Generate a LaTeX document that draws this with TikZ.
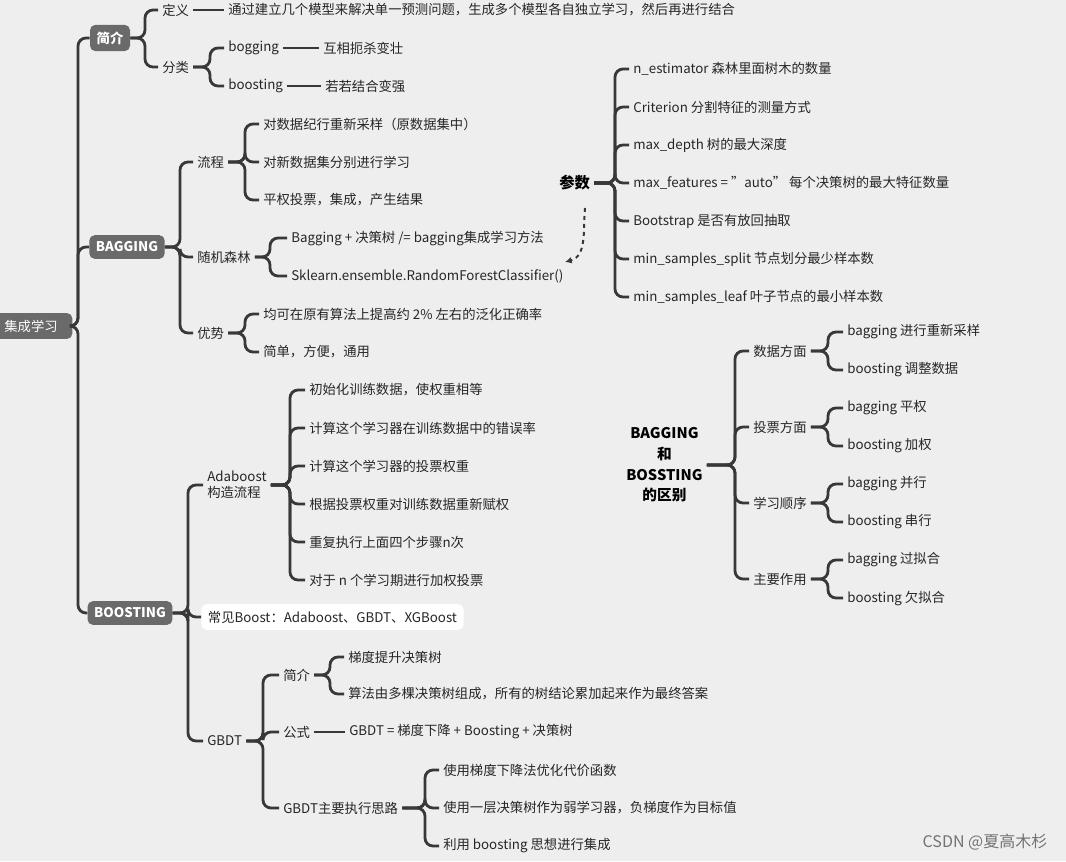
\documentclass[tikz,border=0pt]{standalone}
\usepackage{fontspec}
\setmainfont{Noto Sans CJK SC}
\usetikzlibrary{arrows.meta,positioning}
\definecolor{bgray}{HTML}{EEEEEE}
\definecolor{lnk}{HTML}{383838}
\definecolor{boxc}{HTML}{6A6A6A}
\tikzset{>={Latex[width=5pt,length=5pt]}}

\begin{document}
\begin{tikzpicture}[x=0.75pt,y=-0.75pt,
    txt/.style={anchor=west,inner sep=3pt,text=black!85,font=\fontsize{10}{12}\selectfont},
    hub/.style={fill=boxc,text=white,rounded corners=4pt,inner sep=5pt,font=\fontsize{10}{12}\selectfont\bfseries},
    br/.style={draw=lnk,line width=2.1pt,rounded corners=6pt}]

  \fill[bgray] (0,0) rectangle (1066,861);
  \useasboundingbox (0,0) rectangle (1066,861);

  \newcommand\twig[3]{\draw[br] (#1.east) -- (#1.east -| #2) |- (#3.west);}

  % trunks
  \foreach \n/\x in {ta/78,tb/145,tc/210,td/180,te/245,tf/270,tg/615,th/188,ti/290,tj/263,tk/330,tl/425,tm/735,tn/828}
    {\coordinate (\n) at (\x,0);}

  % root and first level
  \node[hub,font=\fontsize{10}{12}\selectfont,minimum width=62] (root) at (31,326) {集成学习};
  \node[hub] (intro) at (110,38) {简介};
  \node[hub] (bag) at (127,247) {BAGGING};
  \node[hub] (boost) at (130,613) {BOOSTING};
  \foreach \c in {intro,bag,boost} {\twig{root}{ta}{\c}}

  % intro
  \node[txt] (def) at (158,10) {定义};
  \node[txt] (defx) at (224,10) {通过建立几个模型来解决单一预测问题，生成多个模型各自独立学习，然后再进行结合};
  \node[txt] (cls) at (158,67) {分类};
  \node[txt] (bgg) at (224,48) {bogging};
  \node[txt] (bgt) at (224,86) {boosting};
  \node[txt] (bggx) at (319,48) {互相扼杀变壮};
  \node[txt] (bgtx) at (321,86) {若若结合变强};
  \foreach \c in {def,cls} {\twig{intro}{tb}{\c}}
  \foreach \c in {bgg,bgt} {\twig{cls}{tc}{\c}}
  \draw[br] (def) -- (defx);
  \draw[br] (bgg) -- (bggx);
  \draw[br] (bgt) -- (bgtx);

  % bagging
  \node[txt] (flow) at (193,162) {流程};
  \node[txt] (rf) at (193,257) {随机森林};
  \node[txt] (adv) at (193,333) {优势};
  \foreach \c in {flow,rf,adv} {\twig{bag}{td}{\c}}
  \node[txt] (f1) at (259,124) {对数据纪行重新采样（原数据集中）};
  \node[txt] (f2) at (259,162) {对新数据集分别进行学习};
  \node[txt] (f3) at (259,200) {平权投票，集成，产生结果};
  \foreach \c in {f1,f2,f3} {\twig{flow}{te}{\c}}
  \node[txt] (rf1) at (287,238) {Bagging + 决策树 /= bagging集成学习方法};
  \node[txt] (rf2) at (287,276) {Sklearn.ensemble.RandomForestClassifier()};
  \foreach \c in {rf1,rf2} {\twig{rf}{tf}{\c}}
  \node[txt] (a1) at (259,314) {均可在原有算法上提高约 2\% 左右的泛化正确率};
  \node[txt] (a2) at (259,352) {简单，方便，通用};
  \foreach \c in {a1,a2} {\twig{adv}{te}{\c}}

  % parameters
  \node[txt,text=black,font=\fontsize{11.5}{13}\selectfont\bfseries] (par) at (555,183) {参数};
  \node[txt] (p1) at (629,69) {n\_estimator 森林里面树木的数量};
  \node[txt] (p2) at (629,107) {Criterion 分割特征的测量方式};
  \node[txt] (p3) at (629,145) {max\_depth 树的最大深度};
  \node[txt] (p4) at (629,183) {max\_features = \symbol{34}auto\symbol{34} 每个决策树的最大特征数量};
  \node[txt] (p5) at (629,221) {Bootstrap 是否有放回抽取};
  \node[txt] (p6) at (629,259) {min\_samples\_split 节点划分最少样本数};
  \node[txt] (p7) at (629,297) {min\_samples\_leaf 叶子节点的最小样本数};
  \foreach \c in {p1,p2,p3,p4,p5,p6,p7} {\twig{par}{tg}{\c}}
  \draw[->,lnk,line width=1.5pt,dashed] (585,208) to[out=-95,in=15] (565,262);

  % boosting
  \node[txt,align=left] (ada) at (203,485) {Adaboost\\构造流程};
  \node[txt,fill=white,rounded corners=4pt,inner sep=5pt] (com) at (201,617) {常见Boost：Adaboost、GBDT、XGBoost};
  \node[txt] (gbdt) at (203,741) {GBDT};
  \foreach \c in {ada,com,gbdt} {\twig{boost}{th}{\c}}
  \node[txt] (d1) at (305,390) {初始化训练数据，使权重相等};
  \node[txt] (d2) at (305,428) {计算这个学习器在训练数据中的错误率};
  \node[txt] (d3) at (305,466) {计算这个学习器的投票权重};
  \node[txt] (d4) at (305,504) {根据投票权重对训练数据重新赋权};
  \node[txt] (d5) at (305,542) {重复执行上面四个步骤n次};
  \node[txt] (d6) at (305,580) {对于 n 个学习期进行加权投票};
  \foreach \c in {d1,d2,d3,d4,d5,d6} {\twig{ada}{ti}{\c}}
  \node[txt] (g1) at (279,675) {简介};
  \node[txt] (g2) at (279,732) {公式};
  \node[txt] (g3) at (279,808) {GBDT主要执行思路};
  \foreach \c in {g1,g2,g3} {\twig{gbdt}{tj}{\c}}
  \node[txt] (g11) at (344,657) {梯度提升决策树};
  \node[txt] (g12) at (344,694) {算法由多棵决策树组成，所有的树结论累加起来作为最终答案};
  \foreach \c in {g11,g12} {\twig{g1}{tk}{\c}}
  \node[txt] (g21) at (345,732) {GBDT = 梯度下降 + Boosting + 决策树};
  \draw[br] (g2) -- (g21);
  \node[txt] (g31) at (439,770) {使用梯度下降法优化代价函数};
  \node[txt] (g32) at (439,808) {使用一层决策树作为弱学习器，负梯度作为目标值};
  \node[txt] (g33) at (439,846) {利用 boosting 思想进行集成};
  \foreach \c in {g31,g32,g33} {\twig{g3}{tl}{\c}}

  % difference
  \node[txt,text=black,align=center,font=\fontsize{11}{15.5}\selectfont\bfseries] (diff) at (622,465) {BAGGING\\和\\BOSSTING\\的区别};
  \node[txt] (v1) at (749,351) {数据方面};
  \node[txt] (v2) at (749,427) {投票方面};
  \node[txt] (v3) at (749,503) {学习顺序};
  \node[txt] (v4) at (749,579) {主要作用};
  \foreach \c in {v1,v2,v3,v4} {\twig{diff}{tm}{\c}}
  \foreach \p/\a/\b/\ya in {v1/bagging 进行重新采样/boosting 调整数据/332,
                            v2/bagging 平权/boosting 加权/408,
                            v3/bagging 并行/boosting 串行/484,
                            v4/bagging 过拟合/boosting 欠拟合/560}{
    \node[txt] (\p a) at (843,\ya) {\a};
    \node[txt] (\p b) at (843,\ya+38) {\b};
    \twig{\p}{tn}{\p a}
    \twig{\p}{tn}{\p b}
  }

  \node[anchor=east,text=black!55,font=\fontsize{12}{14}\selectfont] (mark) at (1052,842) {CSDN @夏高木杉};
\end{tikzpicture}
\end{document}
